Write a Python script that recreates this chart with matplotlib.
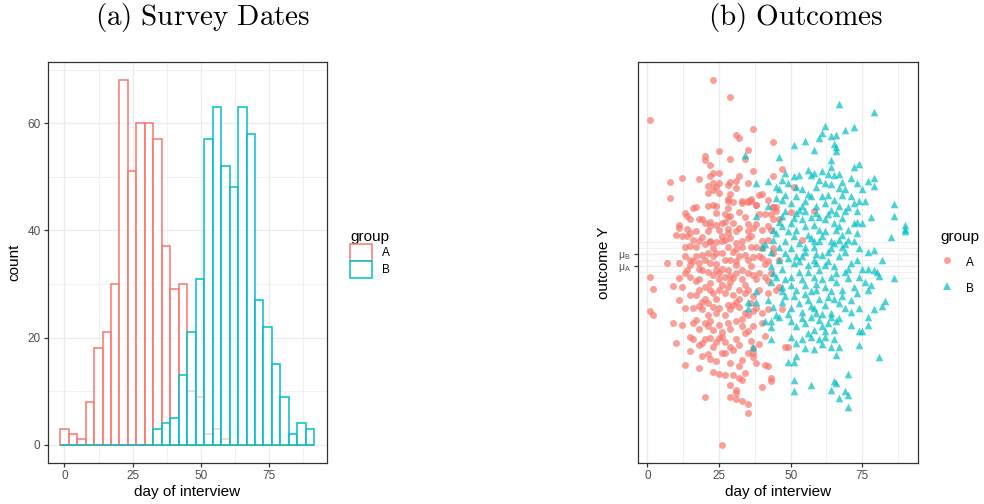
import numpy as np
import matplotlib.pyplot as plt
from matplotlib.patches import Patch
from matplotlib.lines import Line2D

plt.rcParams['font.family'] = ['Liberation Sans', 'DejaVu Sans']

col_a = '#F8766D'
col_b = '#00BFC4'

# histogram of interview days, 30 bins centred on 0 .. 90
bin_width = 90 / 29
bin_centers = np.arange(30) * bin_width
count_a = [3, 2, 1, 8, 18, 21, 30, 68, 51, 60, 60, 57, 37, 29, 30,
           10, 9, 2, 3, 1, 0, 0, 0, 0, 0, 0, 0, 0, 0, 0]
count_b = [0, 0, 0, 0, 0, 0, 0, 0, 0, 0, 0, 3, 4, 5, 13,
           21, 31, 57, 63, 52, 48, 63, 58, 27, 22, 15, 9, 2, 4, 3]

# outcome Y (scale where mu_A = 0, mu_B = 1) against day of interview
points_a = [
    (1, 12.2), (23, 15.5), (29, 14.1), (31, 10.9), (32, 10.7), (37, 11.4), (44, 10.3), (35, 9.7),
    (25, 9.6), (20, 9.2), (20, 8.8), (34, 8.9), (29, 8.9), (22, 8.4), (47, 8.1), (37, 7.9),
    (23, 7.75), (25, 7.75), (44, 7.5), (58, 4.6), (50, 4.5), (54, 2.2), (51, 6.6),
    (8, 7.0), (12, 7.3), (18, 7.25), (22, 7.5), (23, 6.9), (25, 6.9), (24, 6.6), (28, 6.75),
    (29, 7.0), (31, 7.05), (32, 7.5), (35, 6.9), (21, 6.7),
    (8, 5.7), (21, 6.1), (23, 6.3), (25, 6.1), (29, 6.0), (31, 6.5), (28, 5.6), (28, 5.4),
    (33, 5.4), (35, 5.4), (36, 5.6), (39, 5.9), (40, 6.0), (38, 5.1), (42, 5.5), (44, 4.9), (45, 4.9),
    (13, 4.4), (14, 4.2), (16, 4.8), (17, 4.9), (15, 3.9), (18, 3.9), (21, 5.0), (23, 5.05),
    (24, 5.0), (27, 4.3), (28, 4.8), (28, 4.1), (29, 4.2), (32, 4.5), (33, 5.25), (35, 5.3),
    (36, 5.4), (38, 5.05), (41, 4.3), (43, 4.3), (44, 4.9), (45, 4.6),
    (11, 3.4), (11, 3.2), (14, 3.1), (15, 2.75), (17, 2.9), (19, 3.9), (20, 3.6), (22, 3.7),
    (22, 3.3), (24, 3.4), (26, 3.6), (27, 3.7), (28, 3.1), (30, 3.6), (31, 2.9), (32, 3.2),
    (35, 3.5), (37, 3.2), (38, 3.5), (40, 3.0), (35, 2.9), (42, 3.3), (44, 3.9), (46, 3.9), (43, 3.0),
    (10, 2.6), (12, 2.5), (14, 2.5), (16, 2.2), (18, 2.05), (22, 2.0), (22, 2.1), (24, 2.0),
    (26, 2.5), (26, 2.05), (28, 2.75), (29, 2.3), (31, 1.9), (33, 2.05), (35, 2.3), (38, 1.6),
    (40, 2.05), (42, 2.2), (13, 1.55), (15, 1.7), (17, 1.6), (20, 1.8), (23, 1.5), (28, 1.6),
    (31, 1.4), (33, 1.55), (36, 1.6), (40, 1.5), (44, 1.5),
    (7, 0.3), (11, 0.3), (13, 0.8), (15, 0.5), (17, 0.8), (19, 0.95), (21, 1.1), (23, 0.8),
    (24, 1.1), (26, 1.1), (27, 0.5), (29, 0.5), (31, 0.4), (32, 0.8), (35, 0.5), (37, 0.75),
    (39, 0.8), (40, 0.7), (42, 0.4), (44, 1.1), (46, 0.5), (15, 0.1), (18, 0.3), (22, 0.25),
    (24, 0.2), (31, 0.1), (36, 0.0),
    (11, -1.0), (13, -0.6), (15, -0.9), (18, -0.2), (19, -0.3), (21, -0.45), (23, -0.7), (24, -0.3),
    (25, -0.6), (27, -0.9), (28, -0.3), (30, -1.0), (31, -0.6), (33, -0.3), (35, -0.6), (37, -0.7),
    (39, -0.6), (41, -0.9), (43, -0.6), (14, -0.35), (18, -1.1), (25, -1.1), (29, -1.3), (33, -1.1),
    (38, -1.1), (42, -1.2), (1, -0.9), (2, -1.9),
    (9, -1.65), (12, -1.7), (15, -2.4), (17, -2.4), (18, -2.0), (20, -1.7), (22, -2.0), (23, -2.25),
    (25, -2.0), (27, -2.25), (28, -1.75), (30, -2.4), (32, -2.0), (34, -2.25), (35, -2.0), (37, -2.5),
    (39, -2.0), (42, -2.25), (45, -2.0), (46, -1.7), (20, -2.7), (24, -2.7), (32, -2.7),
    (11, -2.8), (13, -3.5), (16, -3.5), (18, -3.3), (19, -3.6), (21, -3.1), (23, -3.4), (24, -3.9),
    (25, -3.5), (28, -3.2), (29, -3.6), (31, -3.0), (32, -3.4), (34, -3.9), (36, -3.1), (38, -3.5),
    (40, -3.9), (42, -3.6), (47, -3.6), (35, -4.05), (21, -4.1), (1, -3.7), (2, -4.1),
    (9, -4.75), (12, -4.9), (16, -4.75), (17, -4.5), (20, -4.75), (21, -5.0), (23, -5.3), (25, -4.9),
    (28, -4.75), (29, -5.2), (31, -4.6), (33, -5.0), (35, -5.4), (37, -5.0), (40, -4.75), (41, -5.8),
    (18, -5.2),
    (10, -6.4), (15, -5.9), (16, -6.1), (18, -6.6), (19, -6.4), (22, -6.0), (23, -6.7), (25, -6.0),
    (26, -5.9), (27, -6.3), (29, -6.7), (31, -6.05), (32, -6.55), (34, -5.6), (36, -6.2), (37, -6.8),
    (39, -6.5), (48, -6.7), (49, -6.7),
    (15, -7.1), (13, -8.2), (18, -8.5), (19, -7.5), (21, -7.3), (22, -7.7), (26, -7.2), (27, -7.2),
    (29, -8.1), (32, -8.3), (33, -7.8), (35, -7.25), (37, -7.55), (38, -8.1), (41, -8.2), (42, -8.3),
    (24, -7.9), (37, -7.25),
    (23, -8.8), (25, -9.0), (27, -9.1), (34, -8.9), (33, -9.5), (29, -9.9), (31, -10.3), (29, -10.9),
    (31, -11.1), (33, -11.2), (35, -11.5), (35, -12.25), (31, -10.6), (40, -10.1), (43, -9.3),
    (43, -9.6), (20, -10.9), (26, -14.9), (32, -9.3), (30, -9.05),
    # extra points in the dense core
    (19, 2.4), (21, 2.9), (25, 3.0), (27, 2.2), (30, 1.2), (34, 0.9), (20, 0.5), (26, -0.2),
    (29, -0.8), (34, -1.6), (22, -1.4), (17, -1.2), (26, -1.6), (30, -3.2), (27, -4.1), (22, -4.6),
    (33, -4.4), (26, -5.5), (20, -6.1), (30, -7.0), (24, 4.4), (30, 5.3), (34, 4.1), (39, 4.3),
    (36, 2.5), (41, 0.2), (16, 0.4), (19, -3.0), (37, -3.7), (24, -6.3),
]

points_b = [
    (67, 13.5), (79, 12.8), (62, 11.7), (61, 11.1), (60, 10.7), (69, 11.3), (72, 11.6), (55, 10.4),
    (58, 9.7), (51, 10.1), (64, 10.8), (66, 10.9), (65, 10.2), (66, 9.9), (64, 8.8), (64, 8.25),
    (66, 9.6), (46, 9.1), (34, 9.25), (72, 8.25), (74, 8.5), (56, 8.0), (61, 7.9),
    (38, 6.9), (42, 7.05), (48, 7.75), (47, 7.2), (49, 6.9), (51, 7.5), (53, 7.6), (57, 7.6),
    (58, 7.75), (60, 7.2), (63, 7.7), (65, 7.6), (67, 7.7), (68, 7.0), (71, 7.3), (73, 6.9),
    (77, 7.1), (79, 7.3), (79, 6.7), (45, 6.6), (46, 6.4), (52, 6.6), (54, 6.4), (59, 6.55),
    (62, 6.9), (64, 6.8), (67, 6.5), (69, 6.4), (75, 6.4),
    (38, 4.2), (42, 5.0), (45, 5.7), (47, 5.5), (48, 5.9), (50, 5.25), (52, 5.8), (54, 5.0),
    (55, 5.4), (57, 5.8), (59, 5.0), (61, 5.8), (62, 5.25), (64, 4.7), (65, 5.5), (67, 5.0),
    (69, 4.55), (71, 5.8), (72, 5.25), (74, 5.4), (76, 5.4), (86, 5.2), (86, 4.2), (48, 4.55),
    (55, 4.55), (66, 4.4), (73, 4.55), (59, 4.4), (52, 4.4),
    (44, 3.0), (46, 3.7), (47, 3.3), (50, 3.6), (51, 4.0), (54, 3.9), (55, 3.3), (57, 4.1),
    (58, 3.4), (60, 3.0), (62, 3.9), (63, 4.3), (65, 3.6), (67, 3.3), (68, 4.0), (70, 3.0),
    (72, 3.6), (73, 3.7), (75, 3.6), (78, 4.1), (90, 3.4), (90, 3.1), (90, 2.9), (45, 2.75),
    (52, 3.0), (62, 2.9), (68, 2.6), (73, 2.75),
    (40, 1.6), (41, 1.8), (44, 2.2), (46, 1.6), (48, 2.05), (50, 1.5), (51, 2.5), (53, 1.9),
    (55, 1.2), (57, 2.3), (58, 1.6), (60, 2.05), (61, 2.5), (63, 1.2), (65, 1.9), (67, 2.2),
    (68, 1.6), (69, 1.2), (72, 2.05), (74, 1.5), (77, 1.2), (79, 1.35), (85, 2.4), (43, 1.2),
    (48, 1.1), (55, 1.6), (64, 2.05), (70, 2.2),
    (43, 0.0), (46, 0.5), (47, -0.2), (49, 0.7), (51, 0.25), (53, -0.45), (54, 0.8), (56, 0.1),
    (58, 0.5), (60, -0.3), (61, 0.95), (63, 0.4), (65, 0.0), (67, 0.8), (69, -0.45), (71, 0.25),
    (73, 0.5), (75, -0.2), (77, -0.2), (79, -0.3), (82, 0.5), (52, 0.8), (59, 0.25), (66, -0.6),
    (38, -2.1), (43, -1.3), (45, -0.9), (47, -1.7), (48, -1.1), (50, -0.9), (52, -2.0), (54, -1.1),
    (55, -1.55), (58, -0.9), (59, -2.0), (61, -1.1), (62, -1.7), (64, -0.9), (66, -1.3), (68, -2.0),
    (70, -1.0), (72, -1.7), (74, -0.9), (76, -1.3), (77, -2.0), (78, -1.6), (80, -0.5), (81, -0.8),
    (86, -1.0), (47, -2.1), (57, -2.1), (64, -2.1), (73, -2.25),
    (35, -3.0), (35, -3.5), (38, -2.95), (42, -2.8), (44, -3.4), (45, -4.1), (47, -2.95), (50, -3.5),
    (51, -2.5), (53, -3.1), (54, -3.8), (56, -2.8), (58, -3.5), (60, -2.7), (62, -3.2), (64, -3.9),
    (65, -2.7), (67, -3.1), (69, -3.5), (71, -2.8), (74, -3.5), (79, -3.6), (82, -3.3), (83, -2.9),
    (48, -2.5), (59, -3.9), (68, -2.5),
    (41, -4.6), (43, -4.6), (43, -5.1), (46, -4.2), (50, -4.6), (52, -5.0), (54, -4.3), (55, -4.75),
    (58, -5.3), (60, -4.5), (61, -5.0), (63, -4.75), (65, -5.3), (67, -4.3), (74, -5.4), (75, -5.4),
    (77, -4.25), (77, -4.9), (57, -4.2), (64, -4.2), (71, -4.9),
    (43, -6.1), (37, -6.75), (49, -8.0), (51, -8.0), (52, -7.5), (55, -6.8), (58, -6.9), (61, -6.5),
    (64, -6.7), (66, -7.4), (67, -6.75), (74, -6.6), (54, -6.1), (57, -5.9), (60, -6.1), (62, -5.9),
    (65, -6.1), (81, -7.6), (50, -5.9), (52, -6.4),
    (70, -9.0), (69, -10.4), (70, -10.75), (70, -11.7), (67, -11.0), (64, -10.3), (65, -9.6),
    (66, -9.75), (57, -9.9), (51, -10.4), (51, -9.5),
    # extra points in the dense core
    (53, 4.7), (56, 6.0), (60, 4.1), (63, 5.9), (66, 3.0), (70, 4.9), (49, 2.9), (56, 2.6),
    (59, 1.0), (62, 0.1), (64, 1.5), (70, -0.2), (50, -1.6), (56, -0.5), (63, -2.6), (57, -3.3),
    (61, -4.0), (66, -4.6), (49, -4.0), (56, -5.6), (69, 1.8), (53, 0.4), (44, -0.6), (59, -1.5),
    (71, -3.8), (68, 5.9), (58, 2.1), (47, 4.2), (62, -5.4), (55, -2.3),
]

mu_labels = [r'$\mathregular{\mu_A}$', r'$\mathregular{\mu_B}$']
mu_values = [0, 1]

fig = plt.figure(figsize=(9.84, 5.04), dpi=100)
ax1 = fig.add_axes([47.5 / 984, 41 / 504, 279.5 / 984, 401 / 504])
ax2 = fig.add_axes([637.5 / 984, 41 / 504, 280.5 / 984, 401 / 504])

def style(ax):
    ax.set_axisbelow(True)
    ax.grid(True, which='major', color='#EBEBEB', linewidth=0.9)
    ax.grid(True, which='minor', color='#EBEBEB', linewidth=0.5)
    for s in ax.spines.values():
        s.set_color('#333333')
        s.set_linewidth(0.9)
    ax.tick_params(which='major', color='#333333', length=3, width=0.9,
                   labelcolor='#4D4D4D', labelsize=8.5, pad=2)
    ax.tick_params(which='minor', length=0)

# (a) histogram
ax1.bar(bin_centers, count_a, width=bin_width, facecolor=(1, 1, 1, 0.6),
        edgecolor=col_a, linewidth=1.1)
ax1.bar(bin_centers, count_b, width=bin_width, facecolor=(1, 1, 1, 0.6),
        edgecolor=col_b, linewidth=1.1)
ax1.set_xlim(-6.2, 96.2)
ax1.set_ylim(-3.4, 71.4)
ax1.set_xticks([0, 25, 50, 75])
ax1.set_xticks([12.5, 37.5, 62.5, 87.5], minor=True)
ax1.set_yticks([0, 20, 40, 60])
ax1.set_yticks([10, 30, 50, 70], minor=True)
style(ax1)
ax1.set_xlabel('day of interview', fontsize=11, labelpad=2)
ax1.set_ylabel('count', fontsize=11, labelpad=4)

leg1 = ax1.legend(handles=[Patch(facecolor='white', edgecolor=col_a, linewidth=1.1, label='A'),
                           Patch(facecolor='white', edgecolor=col_b, linewidth=1.1, label='B')],
                  title='group', loc='upper left', bbox_to_anchor=(350 / 984, 1 - 230 / 504),
                  bbox_transform=fig.transFigure, frameon=False, fontsize=8.5,
                  title_fontsize=11, handlelength=1.85, handleheight=1.85,
                  handletextpad=0.9, labelspacing=0.0, borderpad=0, borderaxespad=0,
                  alignment='left')

# (b) scatter
xa, ya = np.array(points_a).T
xb, yb = np.array(points_b).T
ax2.scatter(xa, ya, s=25, marker='o', color=col_a, alpha=0.7, linewidths=0)
ax2.scatter(xb, yb, s=30, marker='^', color=col_b, alpha=0.7, linewidths=0)
ax2.set_xlim(-3.45, 94.45)
ax2.set_ylim(-16.4, 17.0)
ax2.set_xticks([0, 25, 50, 75])
ax2.set_xticks([12.5, 37.5, 62.5, 87.5], minor=True)
ax2.set_yticks(mu_values)
ax2.set_yticklabels(mu_labels)
ax2.set_yticks([-1, -0.5, 0.5, 1.5, 2], minor=True)
style(ax2)
ax2.tick_params(axis='y', which='major', labelsize=7.5)
ax2.set_xlabel('day of interview', fontsize=11, labelpad=2)
ax2.set_ylabel('outcome Y', fontsize=11, labelpad=5)

leg2 = ax2.legend(handles=[Line2D([], [], marker='o', ls='', color=col_a, alpha=0.7,
                                  markeredgewidth=0, markersize=5, label='A'),
                           Line2D([], [], marker='^', ls='', color=col_b, alpha=0.7,
                                  markeredgewidth=0, markersize=5.5, label='B')],
                  title='group', loc='upper left', bbox_to_anchor=(940 / 984, 1 - 230 / 504),
                  bbox_transform=fig.transFigure, frameon=False, fontsize=8.5,
                  title_fontsize=11, handlelength=1.2, handleheight=1.6,
                  handletextpad=1.0, labelspacing=0.9, borderpad=0, borderaxespad=0,
                  alignment='left')

fig.text(203 / 984, 1 - 18 / 504, r'$\mathrm{(a)\ Survey\ Dates}$', math_fontfamily='cm',
         fontsize=21, ha='center', va='center')
fig.text(795 / 984, 1 - 18 / 504, r'$\mathrm{(b)\ Outcomes}$', math_fontfamily='cm',
         fontsize=21, ha='center', va='center')

fig.savefig('out.png', dpi=100)
